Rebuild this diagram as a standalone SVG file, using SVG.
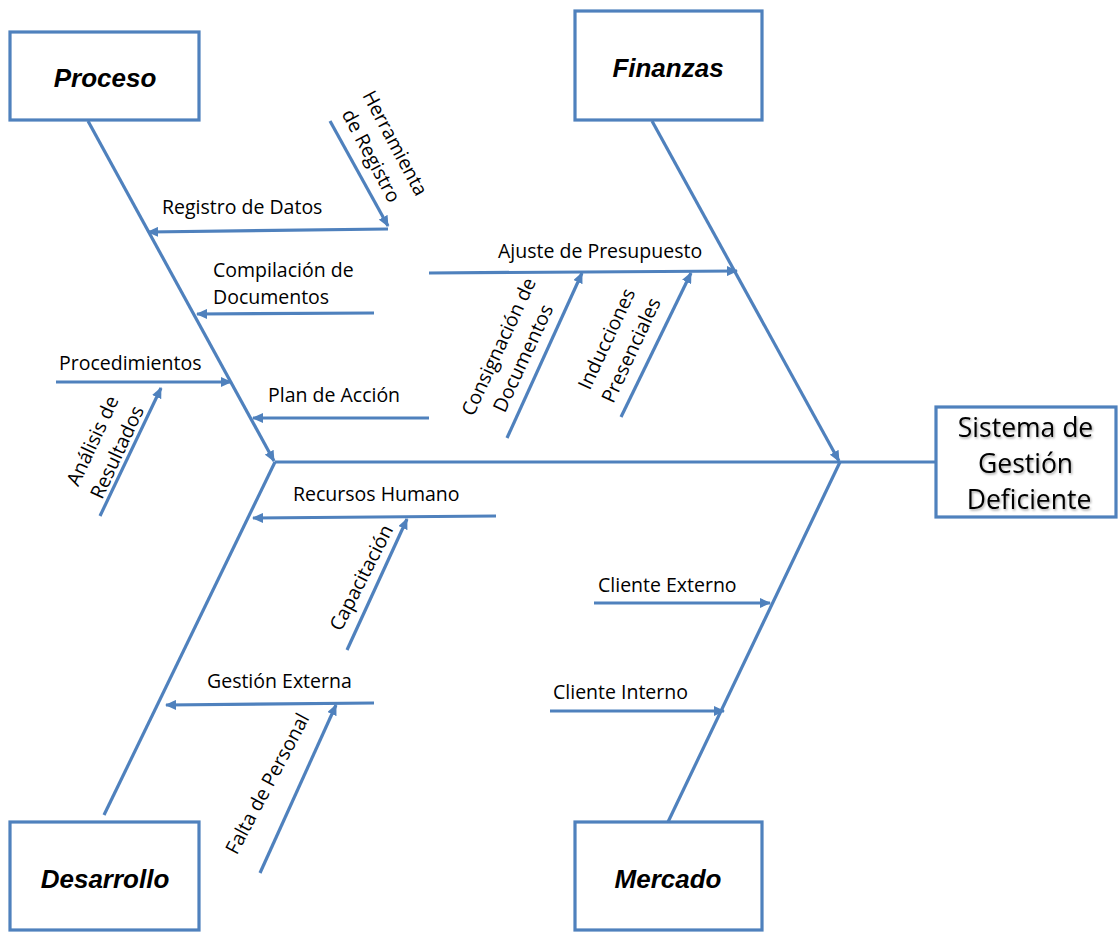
<svg xmlns="http://www.w3.org/2000/svg" width="1118" height="932" viewBox="0 0 1118 932">
  <style>
    .box { fill: #ffffff; stroke: #4F81BD; stroke-width: 3.2; }
    .line { fill: none; stroke: #4F81BD; stroke-width: 3.2; }
    .arrow { marker-end: url(#head); }
    .title { font-family: "Liberation Sans", Arial, sans-serif; font-weight: bold; font-style: italic; font-size: 26px; fill: #000; text-anchor: middle; }
    .label { font-family: "Open Sans", "Liberation Sans", sans-serif; font-size: 19.5px; fill: #000; }
    .rot { text-anchor: middle; }
    .effect { font-family: "Open Sans", "Liberation Sans", sans-serif; font-size: 26.5px; fill: #000; text-anchor: middle; }
  </style>
  <defs>
    <marker id="head" markerUnits="userSpaceOnUse" markerWidth="12" markerHeight="10" refX="10" refY="5" orient="auto">
      <path d="M0,0 L11,5 L0,10 Z" fill="#4F81BD"/>
    </marker>
    <filter id="soft" x="-10%" y="-20%" width="130%" height="150%">
      <feDropShadow dx="1.2" dy="1.5" stdDeviation="1" flood-color="#000" flood-opacity="0.35"/>
    </filter>
  </defs>

  <rect width="1118" height="932" fill="#ffffff"/>

  <!-- connectors: spine, main bones and cause arrows -->
  <g id="connectors">
    <path class="line" d="M275,462 L935,462"/>
    <path class="line arrow" d="M88,121 L274,461"/>
    <path class="line arrow" d="M652,121 L839,461"/>
    <path class="line" d="M275,462 L104,815"/>
    <path class="line" d="M840,462 L668,822"/>

    <path class="line arrow" d="M388,229 L148,232"/>
    <path class="line arrow" d="M330,121 L388,226"/>
    <path class="line arrow" d="M374,313 L197,314"/>
    <path class="line arrow" d="M429,418 L253,418"/>
    <path class="line arrow" d="M56,382 L231,382"/>
    <path class="line arrow" d="M100,516 L161,388"/>

    <path class="line arrow" d="M429,273 L737,271"/>
    <path class="line arrow" d="M507,438 L582,273"/>
    <path class="line arrow" d="M621,417 L691,273"/>

    <path class="line arrow" d="M496,516 L253,518"/>
    <path class="line arrow" d="M347,650 L407,519"/>
    <path class="line arrow" d="M374,703 L166,705"/>
    <path class="line arrow" d="M260,873 L336,705"/>

    <path class="line arrow" d="M594,603 L770,603"/>
    <path class="line arrow" d="M550,711 L724,711"/>
  </g>

  <!-- cause labels -->
  <g id="labels" class="label">
    <text x="162" y="214">Registro de Datos</text>
    <text x="213" y="277">Compilación de</text>
    <text x="213" y="304">Documentos</text>
    <text x="268" y="402">Plan de Acción</text>
    <text x="59" y="370">Procedimientos</text>
    <text x="498" y="258">Ajuste de Presupuesto</text>
    <text x="293" y="501">Recursos Humano</text>
    <text x="207" y="688">Gestión Externa</text>
    <text x="598" y="592">Cliente Externo</text>
    <text x="553" y="699">Cliente Interno</text>

    <text class="rot" transform="translate(382,150) rotate(62)"><tspan x="0" y="-8">Herramienta</tspan><tspan x="0" y="19">de Registro</tspan></text>
    <text class="rot" transform="translate(106,447) rotate(-65)"><tspan x="0" y="-8">Análisis de</tspan><tspan x="0" y="19">Resultados</tspan></text>
    <text class="rot" transform="translate(512,353) rotate(-65)"><tspan x="0" y="-8">Consignación de</tspan><tspan x="0" y="19">Documentos</tspan></text>
    <text class="rot" transform="translate(620,345) rotate(-65)"><tspan x="0" y="-8">Inducciones</tspan><tspan x="0" y="19">Presenciales</tspan></text>
    <text class="rot" transform="translate(362,578) rotate(-63)" y="6">Capacitación</text>
    <text class="rot" transform="translate(268,784) rotate(-62)" y="6">Falta de Personal</text>
  </g>

  <!-- category boxes -->
  <g id="proceso">
    <rect class="box" x="10" y="32" width="189" height="88"/>
    <text class="title" x="105" y="87">Proceso</text>
  </g>
  <g id="finanzas">
    <rect class="box" x="575" y="11" width="187" height="109"/>
    <text class="title" x="668" y="77">Finanzas</text>
  </g>
  <g id="desarrollo">
    <rect class="box" x="10" y="822" width="189" height="108"/>
    <text class="title" x="105" y="888">Desarrollo</text>
  </g>
  <g id="mercado">
    <rect class="box" x="575" y="822" width="187" height="108"/>
    <text class="title" x="668" y="888">Mercado</text>
  </g>

  <!-- effect box -->
  <g id="efecto">
    <rect class="box" x="936" y="407" width="180" height="110"/>
    <text class="effect" filter="url(#soft)">
      <tspan x="1029" y="437">Sistema de</tspan>
      <tspan x="1029" y="473">Gestión</tspan>
      <tspan x="1029" y="509">Deficiente</tspan>
    </text>
  </g>
</svg>
